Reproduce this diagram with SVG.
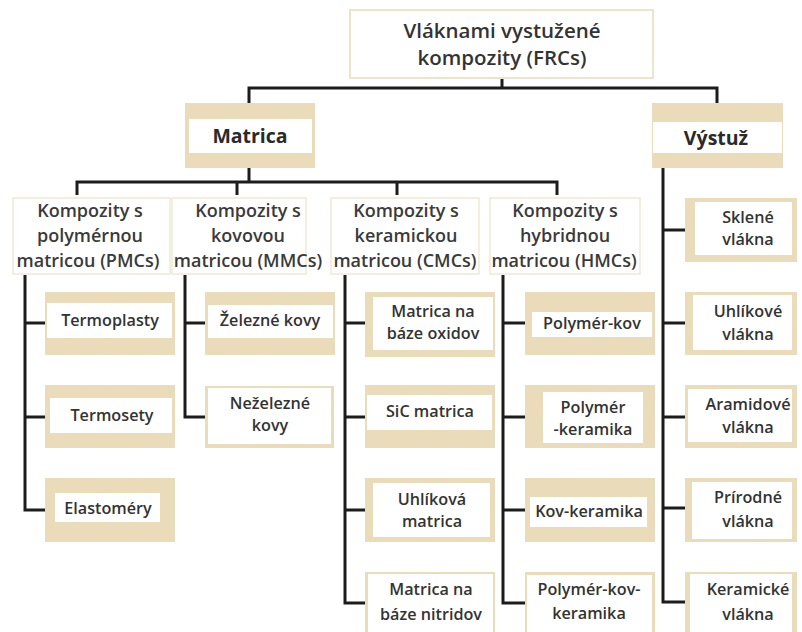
<svg xmlns="http://www.w3.org/2000/svg" width="802" height="632" viewBox="0 0 802 632">
  <style>
    .wire { fill: none; stroke: #1c1c1c; stroke-width: 3; stroke-linejoin: miter; stroke-linecap: butt; }
    .frame { fill: #ebdcb9; filter: url(#grain); }
    .panel { fill: #ffffff; }
    .head { fill: #ffffff; stroke: #f1e9d6; stroke-width: 1.5; }
    .title { fill: #ffffff; stroke: #eee3cb; stroke-width: 2; }
    text { font-family: "Open Sans", "Liberation Sans", sans-serif; fill: #333333; text-anchor: middle; }
    .t-title { font-size: 20.5px; font-weight: 600; }
    .t-main { font-size: 19.5px; font-weight: 700; fill: #2a2a2a; }
    .t-cat { font-size: 18px; font-weight: 600; fill: #3a3a3a; }
    .t-leaf { font-size: 16.2px; font-weight: 600; }
  </style>
  <defs>
    <!-- mottled paper texture for the beige frames -->
    <filter id="grain" x="0" y="0" width="100%" height="100%">
      <feTurbulence type="fractalNoise" baseFrequency="0.3" numOctaves="2" seed="4" result="n"/>
      <feColorMatrix in="n" type="matrix" values="0 0 0 0 0.80  0 0 0 0 0.70  0 0 0 0 0.52  0 0 0 0.5 -0.1" result="tint"/>
      <feComposite in="tint" in2="SourceGraphic" operator="in" result="spots"/>
      <feMerge><feMergeNode in="SourceGraphic"/><feMergeNode in="spots"/></feMerge>
    </filter>
  </defs>

  <rect width="802" height="632" fill="#ffffff"/>

  <!-- tree connectors -->
  <g id="connectors" class="wire">
    <path d="M502,78 V88"/>
    <path d="M249,103 V88 H717 V103"/>
    <path d="M249,168 V182"/>
    <path d="M77,195 V182 H557 V195"/>
    <path d="M237,182 V195"/>
    <path d="M397,182 V195"/>
    <path d="M25,275 V510 H45 M25,323 H45 M25,417 H45"/>
    <path d="M185,275 V417 H205 M185,323 H205"/>
    <path d="M345,275 V603 H365 M345,323 H365 M345,417 H365 M345,510 H365"/>
    <path d="M503,275 V603 H525 M503,323 H525 M503,417 H525 M503,510 H525"/>
    <path d="M663,168 V602 H685 M663,230 H685 M663,323 H685 M663,417 H685 M663,508 H685"/>
  </g>

  <!-- root -->
  <g id="frc">
    <rect class="title" x="350" y="10" width="303" height="68"/>
    <text class="t-title" x="502" y="38">Vláknami vystužené</text>
    <text class="t-title" x="502" y="65">kompozity (FRCs)</text>
  </g>

  <!-- second level -->
  <g id="matrica">
    <rect class="frame" x="185" y="103" width="130" height="65"/>
    <rect class="panel" x="189" y="119" width="123" height="34"/>
    <text class="t-main" x="250" y="143">Matrica</text>
  </g>
  <g id="vystuz">
    <rect class="frame" x="652" y="103" width="131" height="65"/>
    <rect class="panel" x="653" y="122" width="129" height="31"/>
    <text class="t-main" x="716" y="145">Výstuž</text>
  </g>

  <!-- matrix categories -->
  <g id="pmc">
    <rect class="head" x="13" y="198" width="157" height="76"/>
    <text class="t-cat" x="90" y="217">Kompozity s</text>
    <text class="t-cat" x="90" y="242">polymérnou</text>
    <text class="t-cat" x="88" y="267">matricou (PMCs)</text>
  </g>
  <g id="mmc">
    <rect class="head" x="172" y="198" width="134" height="76"/>
    <text class="t-cat" x="248" y="217">Kompozity s</text>
    <text class="t-cat" x="248" y="242">kovovou</text>
    <text class="t-cat" x="248" y="267">matricou (MMCs)</text>
  </g>
  <g id="cmc">
    <rect class="head" x="331" y="198" width="148" height="76"/>
    <text class="t-cat" x="406" y="217">Kompozity s</text>
    <text class="t-cat" x="406" y="242">keramickou</text>
    <text class="t-cat" x="405" y="267">matricou (CMCs)</text>
  </g>
  <g id="hmc">
    <rect class="head" x="490" y="198" width="150" height="76"/>
    <text class="t-cat" x="565" y="217">Kompozity s</text>
    <text class="t-cat" x="565" y="242">hybridnou</text>
    <text class="t-cat" x="564" y="267">matricou (HMCs)</text>
  </g>

  <!-- polymer matrix leaves -->
  <g id="termoplasty">
    <rect class="frame" x="45" y="292" width="130" height="63"/>
    <rect class="panel" x="47" y="303" width="125" height="35"/>
    <text class="t-leaf" x="110" y="326">Termoplasty</text>
  </g>
  <g id="termosety">
    <rect class="frame" x="45" y="385" width="130" height="63"/>
    <rect class="panel" x="50" y="398" width="122" height="35"/>
    <text class="t-leaf" x="112" y="421">Termosety</text>
  </g>
  <g id="elastomery">
    <rect class="frame" x="45" y="478" width="130" height="64"/>
    <rect class="panel" x="55" y="493" width="105" height="29"/>
    <text class="t-leaf" x="108" y="514">Elastoméry</text>
  </g>

  <!-- metal matrix leaves -->
  <g id="zelezne">
    <rect class="frame" x="205" y="292" width="130" height="63"/>
    <rect class="panel" x="208" y="305" width="125" height="33"/>
    <text class="t-leaf" x="270" y="326">Železné kovy</text>
  </g>
  <g id="nezelezne">
    <rect class="frame" x="205" y="386" width="129" height="62"/>
    <rect class="panel" x="208" y="388" width="123" height="56"/>
    <text class="t-leaf" x="270" y="409">Neželezné</text>
    <text class="t-leaf" x="270" y="431">kovy</text>
  </g>

  <!-- ceramic matrix leaves -->
  <g id="oxidy">
    <rect class="frame" x="365" y="292" width="130" height="65"/>
    <rect class="panel" x="373" y="297" width="120" height="53"/>
    <text class="t-leaf" x="433" y="317">Matrica na</text>
    <text class="t-leaf" x="433" y="339">báze oxidov</text>
  </g>
  <g id="sic">
    <rect class="frame" x="365" y="385" width="130" height="63"/>
    <rect class="panel" x="367" y="395" width="125" height="35"/>
    <text class="t-leaf" x="430" y="417">SiC matrica</text>
  </g>
  <g id="uhlikova">
    <rect class="frame" x="365" y="478" width="130" height="64"/>
    <rect class="panel" x="373" y="483" width="117" height="54"/>
    <text class="t-leaf" x="432" y="505">Uhlíková</text>
    <text class="t-leaf" x="432" y="527">matrica</text>
  </g>
  <g id="nitridy">
    <rect class="frame" x="365" y="572" width="130" height="62"/>
    <rect class="panel" x="368" y="574" width="125" height="60"/>
    <text class="t-leaf" x="431" y="595">Matrica na</text>
    <text class="t-leaf" x="431" y="620">báze nitridov</text>
  </g>

  <!-- hybrid matrix leaves -->
  <g id="polymer-kov">
    <rect class="frame" x="525" y="292" width="130" height="63"/>
    <rect class="panel" x="532" y="312" width="120" height="25"/>
    <text class="t-leaf" x="592" y="329">Polymér-kov</text>
  </g>
  <g id="polymer-keramika">
    <rect class="frame" x="525" y="385" width="130" height="63"/>
    <rect class="panel" x="543" y="392" width="100" height="51"/>
    <text class="t-leaf" x="593" y="413">Polymér</text>
    <text class="t-leaf" x="593" y="435">-keramika</text>
  </g>
  <g id="kov-keramika">
    <rect class="frame" x="525" y="478" width="130" height="64"/>
    <rect class="panel" x="530" y="497" width="117" height="30"/>
    <text class="t-leaf" x="589" y="517">Kov-keramika</text>
  </g>
  <g id="polymer-kov-keramika">
    <rect class="frame" x="525" y="572" width="130" height="62"/>
    <rect class="panel" x="527" y="575" width="125" height="59"/>
    <text class="t-leaf" x="589" y="595">Polymér-kov-</text>
    <text class="t-leaf" x="589" y="619">keramika</text>
  </g>

  <!-- reinforcement leaves -->
  <g id="sklene">
    <rect class="frame" x="685" y="198" width="112" height="64"/>
    <rect class="panel" x="695" y="202" width="97" height="53"/>
    <text class="t-leaf" x="748" y="223">Sklené</text>
    <text class="t-leaf" x="748" y="245">vlákna</text>
  </g>
  <g id="uhlikove">
    <rect class="frame" x="685" y="292" width="112" height="63"/>
    <rect class="panel" x="693" y="295" width="99" height="55"/>
    <text class="t-leaf" x="748" y="317">Uhlíkové</text>
    <text class="t-leaf" x="748" y="340">vlákna</text>
  </g>
  <g id="aramidove">
    <rect class="frame" x="685" y="385" width="112" height="63"/>
    <rect class="panel" x="688" y="389" width="104" height="53"/>
    <text class="t-leaf" x="748" y="410">Aramidové</text>
    <text class="t-leaf" x="748" y="433">vlákna</text>
  </g>
  <g id="prirodne">
    <rect class="frame" x="685" y="478" width="112" height="64"/>
    <rect class="panel" x="692" y="482" width="100" height="57"/>
    <text class="t-leaf" x="748" y="503">Prírodné</text>
    <text class="t-leaf" x="748" y="527">vlákna</text>
  </g>
  <g id="keramicke">
    <rect class="frame" x="685" y="572" width="112" height="62"/>
    <rect class="panel" x="690" y="574" width="102" height="60"/>
    <text class="t-leaf" x="748" y="595">Keramické</text>
    <text class="t-leaf" x="748" y="620">vlákna</text>
  </g>
</svg>
